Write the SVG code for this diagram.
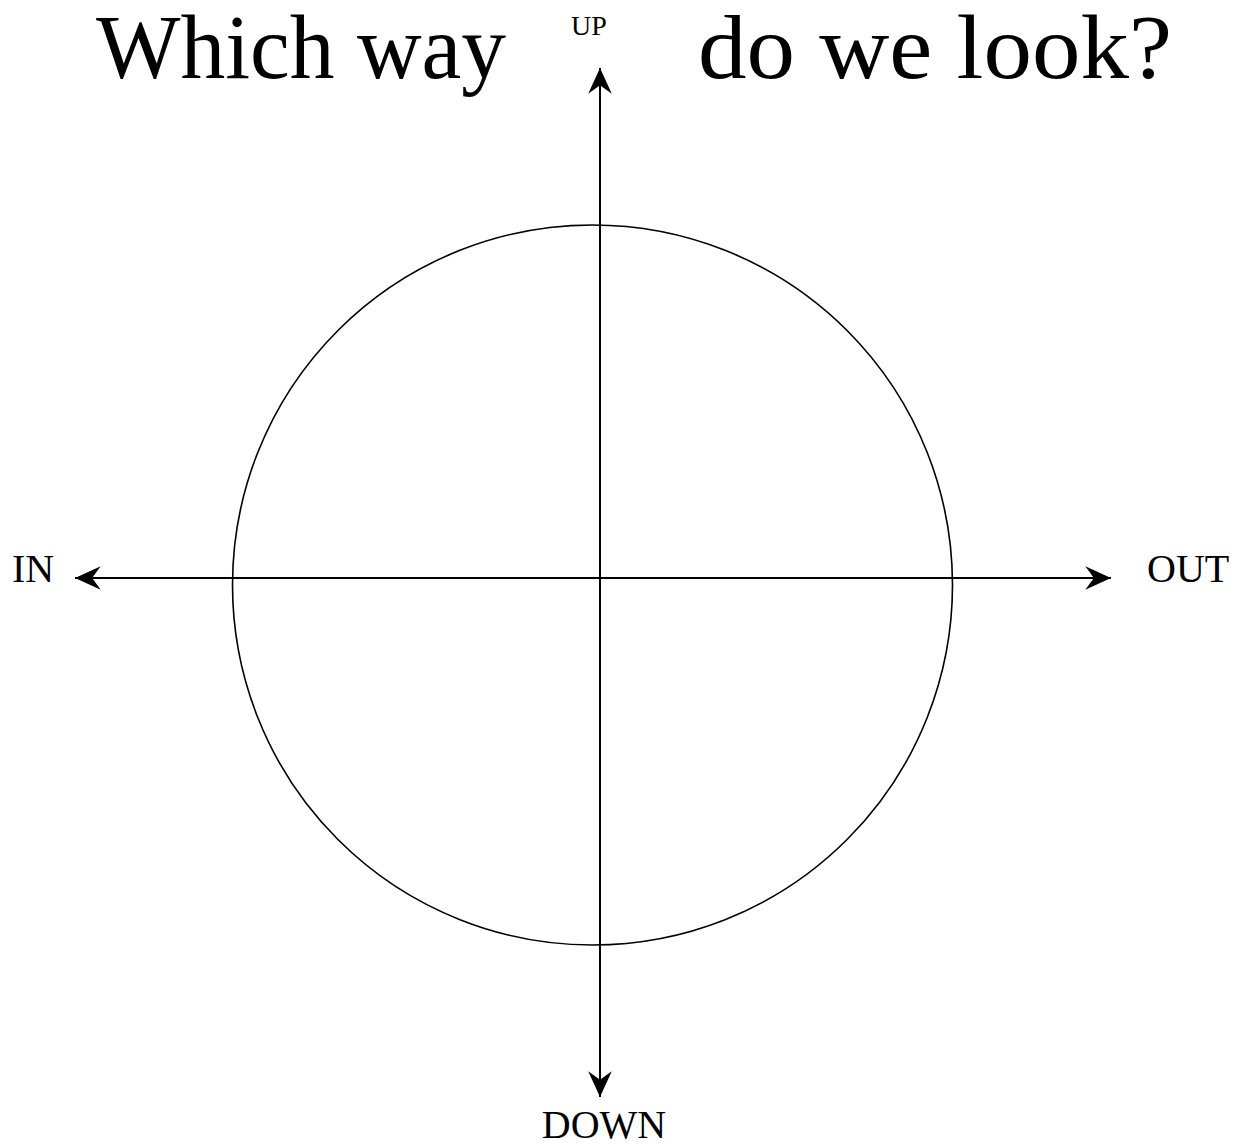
<svg xmlns="http://www.w3.org/2000/svg" width="1239" height="1145" viewBox="0 0 1239 1145">
  <style>
    text { font-family: "Liberation Serif", "Times New Roman", serif; fill: #000; }
    .title { font-size: 92px; }
    .lbl { font-size: 40px; }
    .up { font-size: 28px; }
    .axis { stroke: #000; stroke-width: 2; fill: none; }
    .circ { stroke: #000; stroke-width: 1.6; fill: none; }
  </style>
  <defs>
    <marker id="arr" markerUnits="userSpaceOnUse" markerWidth="30" markerHeight="30" viewBox="-26 -13 28 26" refX="0" refY="0" orient="auto-start-reverse">
      <path d="M0,0 L-24,-11 L-16,0 L-24,11 Z" fill="#000"/>
    </marker>
  </defs>
  <rect width="1239" height="1145" fill="#fff"/>
  <g id="title">
    <text class="title" x="96" y="78" textLength="410" lengthAdjust="spacingAndGlyphs">Which way</text>
    <text class="title" x="698" y="78" textLength="474" lengthAdjust="spacingAndGlyphs">do we look?</text>
  </g>
  <g id="circle">
    <circle class="circ" cx="592.5" cy="585" r="360"/>
  </g>
  <g id="connectors">
    <line class="axis" x1="600" y1="68" x2="600" y2="1097" marker-start="url(#arr)" marker-end="url(#arr)"/>
    <line class="axis" x1="75" y1="578" x2="1111" y2="578" marker-start="url(#arr)" marker-end="url(#arr)"/>
  </g>
  <g id="up"><text class="up" x="589" y="35" text-anchor="middle">UP</text></g>
  <g id="in"><text class="lbl" x="12" y="582">IN</text></g>
  <g id="out"><text class="lbl" x="1147" y="582">OUT</text></g>
  <g id="down"><text class="lbl" x="604" y="1138" text-anchor="middle">DOWN</text></g>
</svg>
